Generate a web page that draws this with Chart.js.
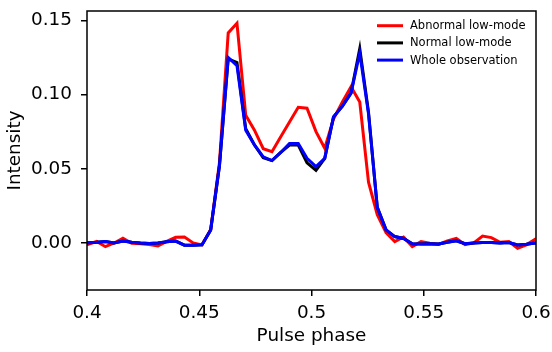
<!DOCTYPE html>
<html>
<head>
<meta charset="utf-8">
<script src="https://cdn.jsdelivr.net/npm/chart.js@4/dist/chart.umd.min.js"></script>
<style>
  html, body { margin: 0; padding: 0; background: #fff; }
  #wrap { width: 552px; height: 352px; }
</style>
</head>
<body>
<div id="wrap"><canvas id="myChart" width="552" height="352"></canvas></div>
<script>
const ctx = document.getElementById('myChart');

// pulse phase bin centres
var phase = [0.3965, 0.4004, 0.4043, 0.4082, 0.4121, 0.4160, 0.4199, 0.4238, 0.4277, 0.4316,
  0.4355, 0.4395, 0.4434, 0.4473, 0.4512, 0.4551, 0.4590, 0.4629, 0.4668, 0.4707,
  0.4746, 0.4785, 0.4824, 0.4863, 0.4902, 0.4941, 0.4980, 0.5020, 0.5059, 0.5098,
  0.5137, 0.5176, 0.5215, 0.5254, 0.5293, 0.5332, 0.5371, 0.5410, 0.5449, 0.5488,
  0.5527, 0.5566, 0.5605, 0.5645, 0.5684, 0.5723, 0.5762, 0.5801, 0.5840, 0.5879,
  0.5918, 0.5957, 0.5996, 0.6035]

var abnormal = [0.000, -0.001, 0.001, -0.0025, 0.000, 0.0032, -0.0002, -0.0005, -0.001, -0.002,
  0.001, 0.0038, 0.004, 0.000, -0.0013, 0.009, 0.054, 0.1415, 0.148, 0.086,
  0.076, 0.0635, 0.0615, 0.0715, 0.0815, 0.0914, 0.0908, 0.075, 0.0638, 0.0835,
  0.0948, 0.1053, 0.095, 0.041, 0.019, 0.007, 0.0009, 0.004, -0.0025, 0.0009,
  -0.0002, -0.001, 0.0013, 0.003, -0.0012, 0.000, 0.0047, 0.0036, 0.0005, 0.0009,
  -0.0036, -0.0013, 0.0025, 0.002]

var normal = [0.000, 0.0002, 0.0005, 0.001, 0.000, 0.0013, 0.0005, 0.000, -0.0003, 0.000,
  0.0008, 0.0013, -0.0015, -0.0015, -0.0013, 0.0088, 0.052, 0.124, 0.1215, 0.077,
  0.066, 0.0575, 0.0555, 0.061, 0.066, 0.066, 0.054, 0.049, 0.057, 0.085,
  0.092, 0.101, 0.131, 0.088, 0.024, 0.0088, 0.0043, 0.003, -0.0005, -0.0007,
  -0.0005, -0.0007, 0.0005, 0.0015, -0.0005, 0.000, 0.0003, 0.0003, 0.000, 0.0003,
  -0.0013, -0.0008, 0.000, 0.000]

var whole = [0.000, 0.0002, 0.0005, 0.001, 0.000, 0.0013, 0.0005, 0.000, -0.0003, 0.000,
  0.0008, 0.0013, -0.0015, -0.0015, -0.0013, 0.0088, 0.052, 0.125, 0.1195, 0.076,
  0.066, 0.058, 0.0555, 0.061, 0.067, 0.067, 0.057, 0.0514, 0.057, 0.085,
  0.092, 0.101, 0.128, 0.087, 0.024, 0.0088, 0.0043, 0.003, -0.0005, -0.0007,
  -0.0005, -0.0007, 0.0005, 0.0015, -0.0005, 0.000, 0.0003, 0.0003, 0.000, 0.0003,
  -0.0013, -0.0008, 0.000, 0.000]

var xTicks = [0.4, 0.45, 0.5, 0.55, 0.6]
var xTickLabels = ['0.4', '0.45', '0.5', '0.55', '0.6']
var yTicks = [0, 0.05, 0.1, 0.15]
var yTickLabels = ['0.00', '0.05', '0.10', '0.15']

var seriesNames = ['Abnormal low-mode', 'Normal low-mode', 'Whole observation']
var seriesColors = ['#ff0000', '#000000', '#0000ff']

var FONT = "'DejaVu Sans', sans-serif"

function pts(vals) {
  var out = []
  for (var i = 0; i < phase.length; i++) out.push({x: phase[i], y: vals[i]})
  return out
}

// frame around the axes box + the legend
const framePlugin = {
  id: 'frame',
  afterDatasetsDraw(chart) {
    const a = chart.chartArea
    const c = chart.ctx
    c.save()
    c.strokeStyle = '#000'
    c.lineWidth = 1.5
    c.strokeRect(a.left, a.top, a.right - a.left, a.bottom - a.top)

    // legend, top right inside axes
    c.font = '11.5px ' + FONT
    c.textBaseline = 'middle'
    c.textAlign = 'left'
    for (var i = 0; i < seriesNames.length; i++) {
      var y = a.top + 14.7 + i * 17.2
      c.strokeStyle = seriesColors[i]
      c.lineWidth = 3
      c.beginPath()
      c.moveTo(a.right - 159, y)
      c.lineTo(a.right - 133, y)
      c.stroke()
      c.fillStyle = '#000'
      c.fillText(seriesNames[i], a.right - 126, y + 0.5)
    }
    c.restore()
  }
}

var datasets = []
var vals = [abnormal, normal, whole]
for (var i = 0; i < 3; i++) {
  datasets.push({
    label: seriesNames[i],
    data: pts(vals[i]),
    borderColor: seriesColors[i],
    backgroundColor: seriesColors[i],
    borderWidth: 3,
    pointRadius: 0,
    tension: 0,
    fill: false,
    clip: 0,
    order: 3 - i
  })
}

var webchart = new Chart(ctx, {
  type: 'line',
  data: { datasets: datasets },
  plugins: [framePlugin],
  options: {
    responsive: false,
    animation: false,
    events: [],
    layout: { padding: { top: 11, right: 16, left: 0, bottom: 0 } },
    plugins: { legend: { display: false }, tooltip: { enabled: false } },
    scales: {
      x: {
        type: 'linear',
        min: 0.4,
        max: 0.6,
        afterFit: function(s) { s.height = 62; s.paddingLeft = 0; s.paddingRight = 0 },
        afterBuildTicks: function(s) { s.ticks = xTicks.map(v => ({value: v})) },
        border: { display: false },
        grid: { drawOnChartArea: false, drawTicks: true, tickLength: 6, color: '#000', lineWidth: 1.5 },
        ticks: {
          color: '#000',
          padding: 6,
          maxRotation: 0,
          font: { family: FONT, size: 18.4 },
          callback: function(v) { var i = xTicks.indexOf(v); return i >= 0 ? xTickLabels[i] : '' }
        },
        title: { display: true, text: 'Pulse phase', color: '#000', font: { family: FONT, size: 18.4 }, padding: { top: 0, bottom: 4.4 } }
      },
      y: {
        min: -0.0317,
        max: 0.1563,
        afterFit: function(s) { s.width = 87; s.paddingTop = 0; s.paddingBottom = 0 },
        afterBuildTicks: function(s) { s.ticks = yTicks.map(v => ({value: v})) },
        border: { display: false },
        grid: { drawOnChartArea: false, drawTicks: true, tickLength: 6, color: '#000', lineWidth: 1.5 },
        ticks: {
          color: '#000',
          padding: 9,
          font: { family: FONT, size: 18.4 },
          callback: function(v) { var i = yTicks.indexOf(v); return i >= 0 ? yTickLabels[i] : '' }
        },
        title: { display: true, text: 'Intensity', color: '#000', font: { family: FONT, size: 18.4 }, padding: { top: 4, bottom: 0 } }
      }
    }
  }
});
</script>
</body>
</html>
